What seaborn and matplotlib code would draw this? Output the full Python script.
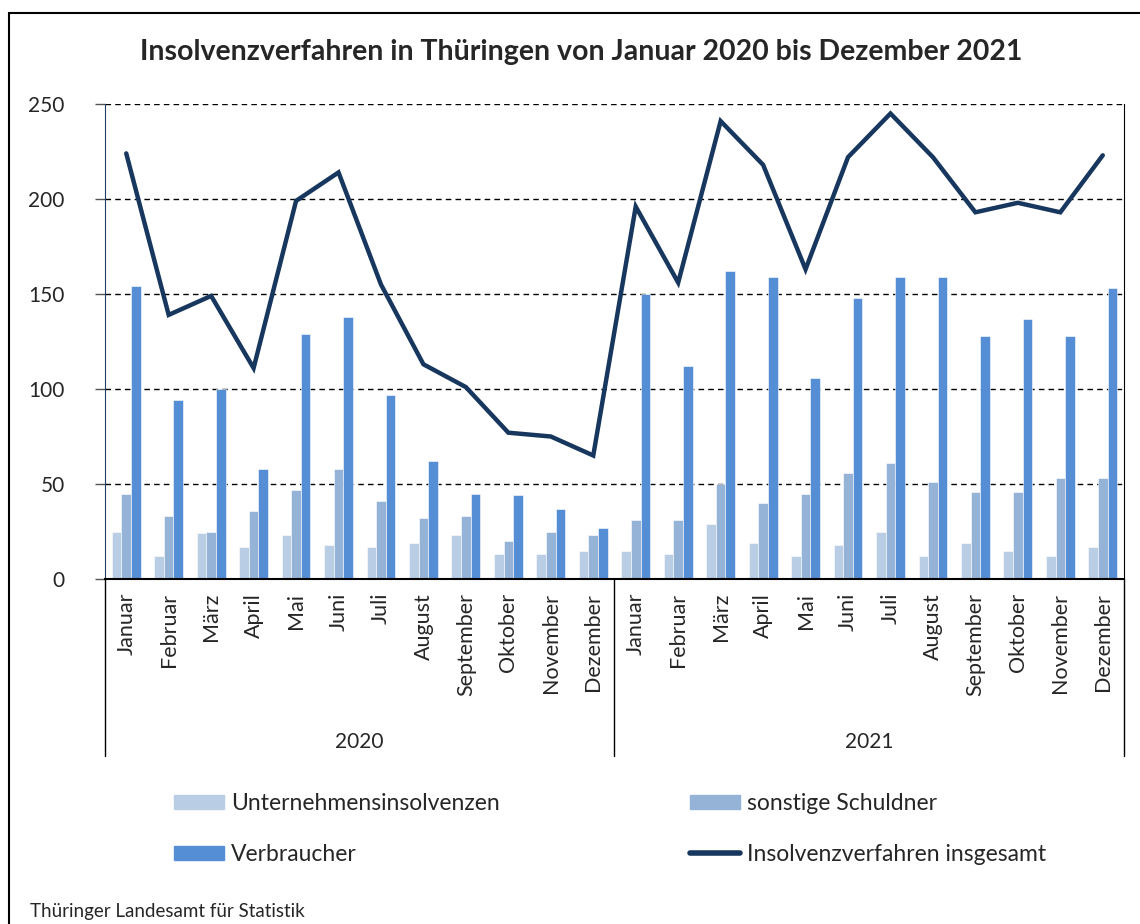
import matplotlib
matplotlib.use("Agg")
import numpy as np
import pandas as pd
import matplotlib.pyplot as plt
import seaborn as sns
from matplotlib.lines import Line2D
from matplotlib.patches import Patch, Rectangle

# --- data ---
years = ["2020", "2021"]
months = ["Januar", "Februar", "März", "April", "Mai", "Juni", "Juli",
          "August", "September", "Oktober", "November", "Dezember"]
unternehmen = [25, 12, 24, 17, 23, 18, 17, 19, 23, 13, 13, 15,
               15, 13, 29, 19, 12, 18, 25, 12, 19, 15, 12, 17]
sonstige = [45, 33, 25, 36, 47, 58, 41, 32, 33, 20, 25, 23,
            31, 31, 50, 40, 45, 56, 61, 51, 46, 46, 53, 53]
verbraucher = [154, 94, 100, 58, 129, 138, 97, 62, 45, 44, 37, 27,
               150, 112, 162, 159, 106, 148, 159, 159, 128, 137, 128, 153]
insgesamt = [224, 139, 149, 111, 199, 214, 155, 113, 101, 77, 75, 65,
             196, 156, 241, 218, 163, 222, 245, 222, 193, 198, 193, 223]
groups = ["Unternehmensinsolvenzen", "sonstige Schuldner", "Verbraucher"]
line_label = "Insolvenzverfahren insgesamt"
colors = ["#b9cde5", "#95b3d7", "#558ed5"]
line_color = "#17375e"

keys = [f"{m} {y}" for y in years for m in months]
df = pd.DataFrame({
    "Monat": keys * 3,
    "Gruppe": [g for g in groups for _ in keys],
    "Anzahl": unternehmen + sonstige + verbraucher,
})

sns.set_style("white")
plt.rcParams["font.family"] = ["Lato", "DejaVu Sans"]

fig = plt.figure(figsize=(11.4, 9.24), dpi=100)
ax = fig.add_axes([105 / 1140, 1 - 579 / 924, (1124 - 105) / 1140, (579 - 104) / 924])

sns.barplot(data=df, x="Monat", y="Anzahl", hue="Gruppe", hue_order=groups,
            order=keys, palette=colors, saturation=1, width=0.68, gap=0,
            errorbar=None, legend=False, edgecolor="white", linewidth=0.4, ax=ax)
ax.plot(range(len(keys)), insgesamt, color=line_color, lw=3.2, zorder=5,
        solid_joinstyle="miter")

ax.set_xlim(-0.5, len(keys) - 0.5)
ax.set_ylim(0, 250)
ax.set_yticks(range(0, 251, 50))
for v in range(50, 251, 50):
    ax.axhline(v, color="black", lw=1, ls=(0, (4, 3)), zorder=0.5)
ax.set_xticks(range(len(keys)))
ax.set_xticklabels(months * 2, rotation=90, fontsize=15.5)
ax.tick_params(axis="x", length=0, pad=10)
ax.tick_params(axis="y", length=7, width=1, color="#555555", labelsize=15, pad=22, left=True)
ax.set_xlabel("")
ax.set_ylabel("")

ax.spines["top"].set_visible(False)
ax.spines["left"].set_color("#1f3f66")
ax.spines["right"].set_color("black")
ax.spines["bottom"].set_color("black")
ax.spines["bottom"].set_linewidth(1.5)

# year separators and labels below the month labels
trans = ax.get_xaxis_transform()
for xv in [-0.5, 11.5, 23.5]:
    ax.add_line(Line2D([xv, xv], [0, -(756 - 579) / 475], transform=trans,
                       color="black", lw=1, clip_on=False))
for i, y in enumerate(years):
    ax.text(5.5 + 12 * i, -(742 - 579) / 475, y, transform=trans,
            ha="center", va="center", fontsize=15)

fig.text(581 / 1140, 1 - 52 / 924, "Insolvenzverfahren in Thüringen von Januar 2020 bis Dezember 2021",
         ha="center", va="center", fontsize=20.5, fontweight="bold")

handles = [Patch(color=colors[0]), Patch(color=colors[2]),
           Patch(color=colors[1]), Line2D([], [], color=line_color, lw=4)]
labels = [groups[0], groups[2], groups[1], line_label]
fig.legend(handles, labels, ncol=2, loc="center left",
           bbox_to_anchor=(153 / 1140, 1 - 829 / 924), frameon=False,
           fontsize=16.5, handlelength=2.2, handleheight=0.6, handletextpad=0.3,
           columnspacing=8.3, labelspacing=1.3)

fig.text(30 / 1140, 1 - 912 / 924, "Thüringer Landesamt für Statistik",
         ha="left", va="center", fontsize=13.5)

fig.patches.append(Rectangle((9 / 1140, -0.1), 1.2, 1 - 13 / 924 + 0.1,
                             transform=fig.transFigure, fill=False,
                             edgecolor="black", lw=1.5, zorder=10))

fig.savefig("out.png", dpi=100)
